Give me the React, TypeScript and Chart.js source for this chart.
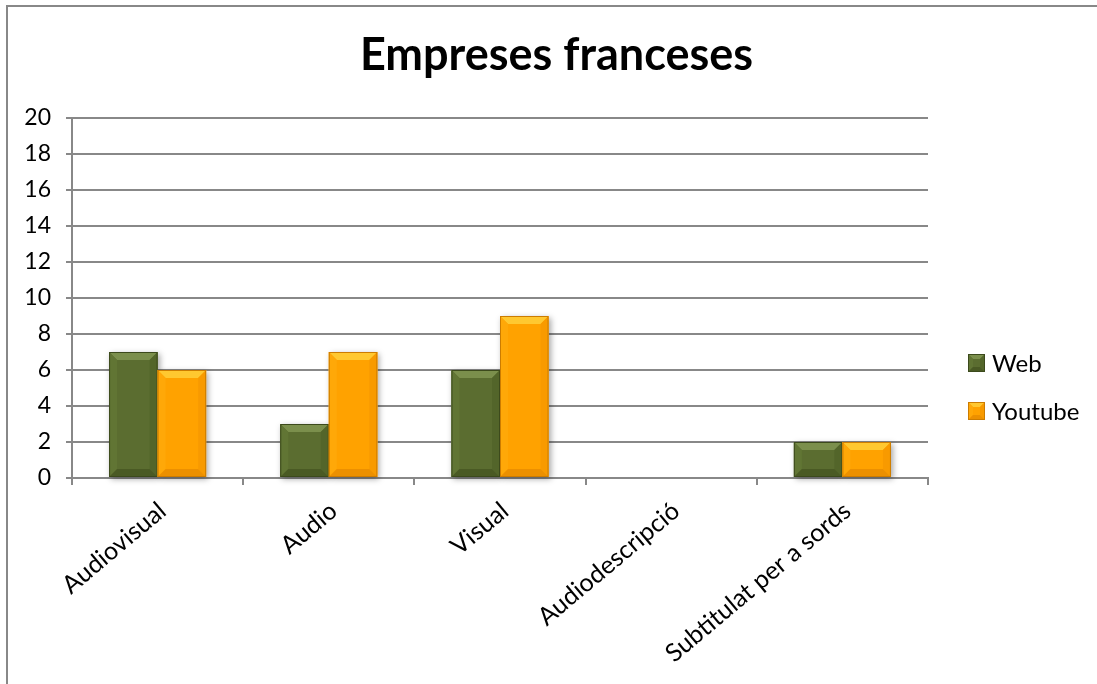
import { useEffect, useRef } from "react";
import { Chart, registerables } from "chart.js";

Chart.register(...registerables);

const chartTitle = "Empreses franceses";
const categories = ["Audiovisual", "Audio", "Visual", "Audiodescripció", "Subtitulat per a sords"];
const seriesNames = ["Web", "Youtube"];
const webValues = [7, 3, 6, 0, 2];
const youtubeValues = [6, 7, 9, 0, 2];
const yMin = 0;
const yMax = 20;
const yStep = 2;

const FONT = "Lato, 'Open Sans', sans-serif";

type Palette = { face: string; top: string; left: string; right: string; bottom: string; edge: string };
const palettes: Palette[] = [
  { face: "#5b6d30", top: "#7b8f4c", left: "#617534", right: "#53652a", bottom: "#4a5a24", edge: "#3c4a1c" },
  { face: "#ffa200", top: "#ffc830", left: "#ffa808", right: "#f89a00", bottom: "#ec9000", edge: "#cc7c00" },
];

function drawBevelBox(ctx: CanvasRenderingContext2D, l: number, t: number, r: number, b: number, p: Palette, bev: number) {
  const h = b - t;
  const w = r - l;
  const bv = Math.min(bev, h / 2, w / 2);
  ctx.fillStyle = p.face;
  ctx.fillRect(l, t, w, h);
  const poly = (pts: number[][], c: string) => {
    ctx.beginPath();
    ctx.moveTo(pts[0][0], pts[0][1]);
    for (let i = 1; i < pts.length; i++) ctx.lineTo(pts[i][0], pts[i][1]);
    ctx.closePath();
    ctx.fillStyle = c;
    ctx.fill();
  };
  poly([[l, t], [r, t], [r - bv, t + bv], [l + bv, t + bv]], p.top);
  poly([[l, t], [l + bv, t + bv], [l + bv, b - bv], [l, b]], p.left);
  poly([[r, t], [r, b], [r - bv, b - bv], [r - bv, t + bv]], p.right);
  poly([[l, b], [l + bv, b - bv], [r - bv, b - bv], [r, b]], p.bottom);
  ctx.strokeStyle = p.edge;
  ctx.lineWidth = 1;
  ctx.strokeRect(l + 0.5, t + 0.5, w - 1, h - 1);
}

const bevelPlugin = {
  id: "bevelBars",
  beforeDatasetsDraw(chart: any) {
    const ctx = chart.ctx as CanvasRenderingContext2D;
    ctx.save();
    chart.data.datasets.forEach((_: any, di: number) => {
      const meta = chart.getDatasetMeta(di);
      meta.data.forEach((el: any) => {
        const h = el.base - el.y;
        if (h < 1) return;
        ctx.shadowColor = "rgba(0,0,0,0.35)";
        ctx.shadowBlur = 6;
        ctx.shadowOffsetX = 2;
        ctx.shadowOffsetY = 2;
        ctx.fillStyle = "#ffffff";
        ctx.fillRect(el.x - el.width / 2, el.y, el.width, h);
      });
    });
    ctx.restore();
  },
  afterDatasetsDraw(chart: any) {
    const ctx = chart.ctx as CanvasRenderingContext2D;
    ctx.save();
    chart.data.datasets.forEach((_: any, di: number) => {
      const meta = chart.getDatasetMeta(di);
      meta.data.forEach((el: any) => {
        const h = el.base - el.y;
        if (h < 1) return;
        drawBevelBox(ctx, el.x - el.width / 2, el.y, el.x + el.width / 2, el.base, palettes[di], 8);
      });
    });
    ctx.restore();
  },
};

const legendPlugin = {
  id: "customLegend",
  afterDraw(chart: any) {
    const ctx = chart.ctx as CanvasRenderingContext2D;
    ctx.save();
    const x0 = 968;
    const ys = [363, 411];
    chart.data.datasets.forEach((ds: any, i: number) => {
      const cy = ys[i];
      drawBevelBox(ctx, x0, cy - 9, x0 + 17, cy + 9, palettes[i], 5);
      ctx.fillStyle = "#000000";
      ctx.font = `24px ${FONT}`;
      ctx.textAlign = "left";
      ctx.textBaseline = "middle";
      ctx.fillText(ds.label, x0 + 24, cy + 1);
    });
    ctx.restore();
  },
};

export default function App() {
  const ref = useRef<HTMLCanvasElement | null>(null);

  useEffect(() => {
    if (!ref.current) return;
    const gridColor = "#888888";
    const chart = new Chart(ref.current, {
      type: "bar",
      data: {
        labels: categories,
        datasets: [
          { label: seriesNames[0], data: webValues, backgroundColor: "rgba(0,0,0,0)", borderWidth: 0 },
          { label: seriesNames[1], data: youtubeValues, backgroundColor: "rgba(0,0,0,0)", borderWidth: 0 },
        ],
      },
      options: {
        responsive: false,
        animation: false,
        layout: { padding: { left: 16, right: 0, top: 0, bottom: 0 } },
        datasets: { bar: { categoryPercentage: 0.567, barPercentage: 1 } },
        plugins: {
          legend: { display: false },
          tooltip: { enabled: false },
          title: {
            display: true,
            text: chartTitle,
            color: "#000000",
            font: { family: FONT, size: 45, weight: "bold", lineHeight: 1.2 },
            padding: { top: 28, bottom: 36 },
          },
        },
        scales: {
          x: {
            grid: { drawOnChartArea: false, color: gridColor, lineWidth: 2, tickLength: 7, offset: true },
            border: { color: gridColor, width: 2 },
            ticks: {
              autoSkip: false,
              maxRotation: 40,
              minRotation: 40,
              color: "#000000",
              padding: 11,
              labelOffset: 5,
              font: { family: FONT, size: 25 },
            },
            afterFit(scale: any) {
              scale.height = 206;
            },
          },
          y: {
            min: yMin,
            max: yMax,
            ticks: {
              stepSize: yStep,
              color: "#000000",
              padding: 15,
              font: { family: FONT, size: 23 },
            },
            grid: { color: gridColor, lineWidth: 2, tickLength: 6 },
            border: { color: gridColor, width: 2 },
            afterFit(scale: any) {
              scale.width = 56;
            },
          },
          yR: {
            type: "linear",
            position: "right",
            display: true,
            grid: { display: false },
            border: { display: false },
            ticks: { display: false },
            afterFit(scale: any) {
              scale.width = 169;
            },
          },
        },
      } as any,
      plugins: [bevelPlugin, legendPlugin],
    });
    return () => chart.destroy();
  }, []);

  return (
    <div style={{ position: "fixed", left: 0, top: 0, width: 1097, height: 684, background: "#ffffff" }}>
      <canvas ref={ref} width={1097} height={684} style={{ position: "absolute", left: 0, top: 0 }} />
      <div
        style={{
          position: "absolute",
          left: 6,
          top: 5,
          width: 1200,
          height: 800,
          borderLeft: "2px solid #888888",
          borderTop: "2px solid #888888",
          pointerEvents: "none",
        }}
      />
    </div>
  );
}
